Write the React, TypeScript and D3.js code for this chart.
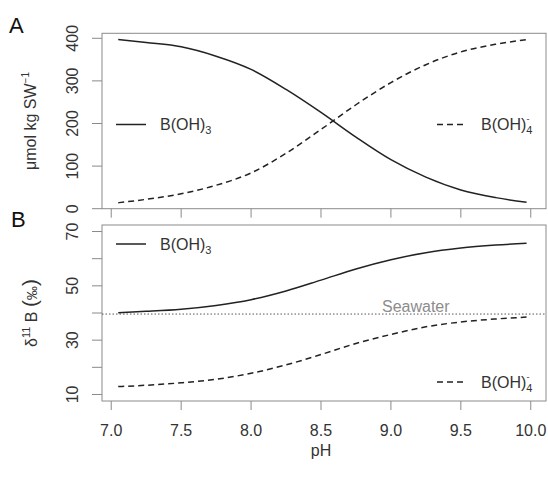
import React from 'react';
import * as d3 from 'd3';

// values
const phValues = [7.05, 7.25, 7.5, 7.75, 8.0, 8.25, 8.5, 8.75, 9.0, 9.25, 9.5, 9.75, 9.97];
const boricAcidConc = [397, 390, 380, 358, 327, 280, 226, 168, 115, 74, 44, 26, 15];
const borateConc = [14, 22, 35, 55, 84, 130, 186, 244, 296, 338, 368, 386, 397];
const boricAcidD11B = [40.1, 40.6, 41.4, 42.8, 44.9, 48.1, 52.1, 56.2, 59.6, 62.2, 63.9, 65.0, 65.7];
const borateD11B = [12.9, 13.4, 14.3, 15.6, 17.8, 20.9, 24.7, 28.8, 32.1, 34.9, 36.7, 37.8, 38.5];
const seawaterD11B = 39.61;

const phTicks = [7.0, 7.5, 8.0, 8.5, 9.0, 9.5, 10.0];
const concTicks = [0, 100, 200, 300, 400];
const isoTicks = [10, 20, 30, 40, 50, 60, 70];
const isoTickLabels = [10, 30, 50, 70];

const FONT = '"Liberation Sans", Arial, Helvetica, sans-serif';
const BOX = '#8a8a8a';
const LABEL = '#333';
const INK = '#222';

const App = () => {
    const left = 102, right = 546;
    const top1 = 33.3, bot1 = 208.7;
    const top2 = 225, bot2 = 401;

    const x = d3.scaleLinear().domain([6.934, 10.109]).range([left, right]);
    const y1 = d3.scaleLinear().domain([0, 411.7]).range([bot1, top1]);
    const y2 = d3.scaleLinear().domain([7.6, 72.4]).range([bot2, top2]);

    const line1 = d3.line<number>().x((d, i) => x(phValues[i])).y(d => y1(d)).curve(d3.curveMonotoneX);
    const line2 = d3.line<number>().x((d, i) => x(phValues[i])).y(d => y2(d)).curve(d3.curveMonotoneX);

    const yTickLabel = (yy: number, label: string, key: string) => (
        <g key={key}>
            <line x1={left - 10} x2={left} y1={yy} y2={yy} stroke={BOX} />
            <text transform={`translate(78,${yy}) rotate(-90)`} textAnchor="middle" fontSize={16} fill={LABEL}>{label}</text>
        </g>
    );

    const legend = (lx: number, ly: number, dashed: boolean, borate: boolean) => (
        <g>
            <line x1={lx} x2={lx + 30} y1={ly} y2={ly} stroke={INK} strokeWidth={1.5}
                  strokeDasharray={dashed ? '6,4' : undefined} />
            <text x={lx + 44} y={ly + 6} fontSize={16} fill={LABEL}>
                B(OH)
                <tspan dy={4} fontSize={11}>{borate ? '4' : '3'}</tspan>
                {borate ? <tspan dx={-6} dy={-12} fontSize={9}>-</tspan> : null}
            </text>
        </g>
    );

    return (
        <svg width={548} height={478} style={{position: 'fixed', left: 0, top: 0, background: '#fff'}}
             fontFamily={FONT}>
            {/* panel A */}
            <text x={9} y={33} fontSize={22} fill="#111">A</text>
            <rect x={left} y={top1} width={right - left} height={bot1 - top1} fill="none" stroke={BOX} />
            {phTicks.map(t => (
                <line key={'a' + t} x1={x(t)} x2={x(t)} y1={bot1} y2={bot1 + 9} stroke={BOX} />
            ))}
            {concTicks.map(t => yTickLabel(y1(t), String(t), 'c' + t))}
            <text transform={`translate(36,${(top1 + bot1) / 2}) rotate(-90)`} textAnchor="middle"
                  fontSize={16} fill={LABEL}>
                μmol kg SW<tspan dy={-7} fontSize={10}>−1</tspan>
            </text>
            <path d={line1(boricAcidConc) || ''} fill="none" stroke={INK} strokeWidth={1.5} />
            <path d={line1(borateConc) || ''} fill="none" stroke={INK} strokeWidth={1.5} strokeDasharray="6,4" />
            {legend(116, y1(200) + 1, false, false)}
            {legend(437, y1(200) + 1, true, true)}

            {/* panel B */}
            <text x={11} y={227} fontSize={22} fill="#111">B</text>
            <rect x={left} y={top2} width={right - left} height={bot2 - top2} fill="none" stroke={BOX} />
            {phTicks.map(t => (
                <g key={'b' + t}>
                    <line x1={x(t)} x2={x(t)} y1={bot2} y2={bot2 + 9} stroke={BOX} />
                    <text x={x(t)} y={436} textAnchor="middle" fontSize={16} fill={LABEL}>{t.toFixed(1)}</text>
                </g>
            ))}
            {isoTicks.map(t => isoTickLabels.includes(t)
                ? yTickLabel(y2(t), String(t), 'i' + t)
                : <line key={'i' + t} x1={left - 10} x2={left} y1={y2(t)} y2={y2(t)} stroke={BOX} />)}
            <text transform={`translate(37,${(top2 + bot2) / 2}) rotate(-90)`} textAnchor="middle"
                  fontSize={16} fill={LABEL}>
                δ<tspan dy={-7} fontSize={11}>11</tspan><tspan dy={7}> B </tspan>
                <tspan fontSize={21}>(</tspan><tspan fontSize={14}>‰</tspan><tspan fontSize={21}>)</tspan>
            </text>
            <line x1={left} x2={right} y1={y2(seawaterD11B)} y2={y2(seawaterD11B)} stroke="#555"
                  strokeWidth={1} strokeDasharray="1.5,2" />
            <text x={382} y={312} fontSize={16} fill="#8c8c8c">Seawater</text>
            <path d={line2(boricAcidD11B) || ''} fill="none" stroke={INK} strokeWidth={1.5} />
            <path d={line2(borateD11B) || ''} fill="none" stroke={INK} strokeWidth={1.5} strokeDasharray="6,4" />
            {legend(116, 244, false, false)}
            {legend(437, 382, true, true)}

            <text x={x(8.5)} y={456} textAnchor="middle" fontSize={16} fill={LABEL}>pH</text>
        </svg>
    );
};

export default App;
